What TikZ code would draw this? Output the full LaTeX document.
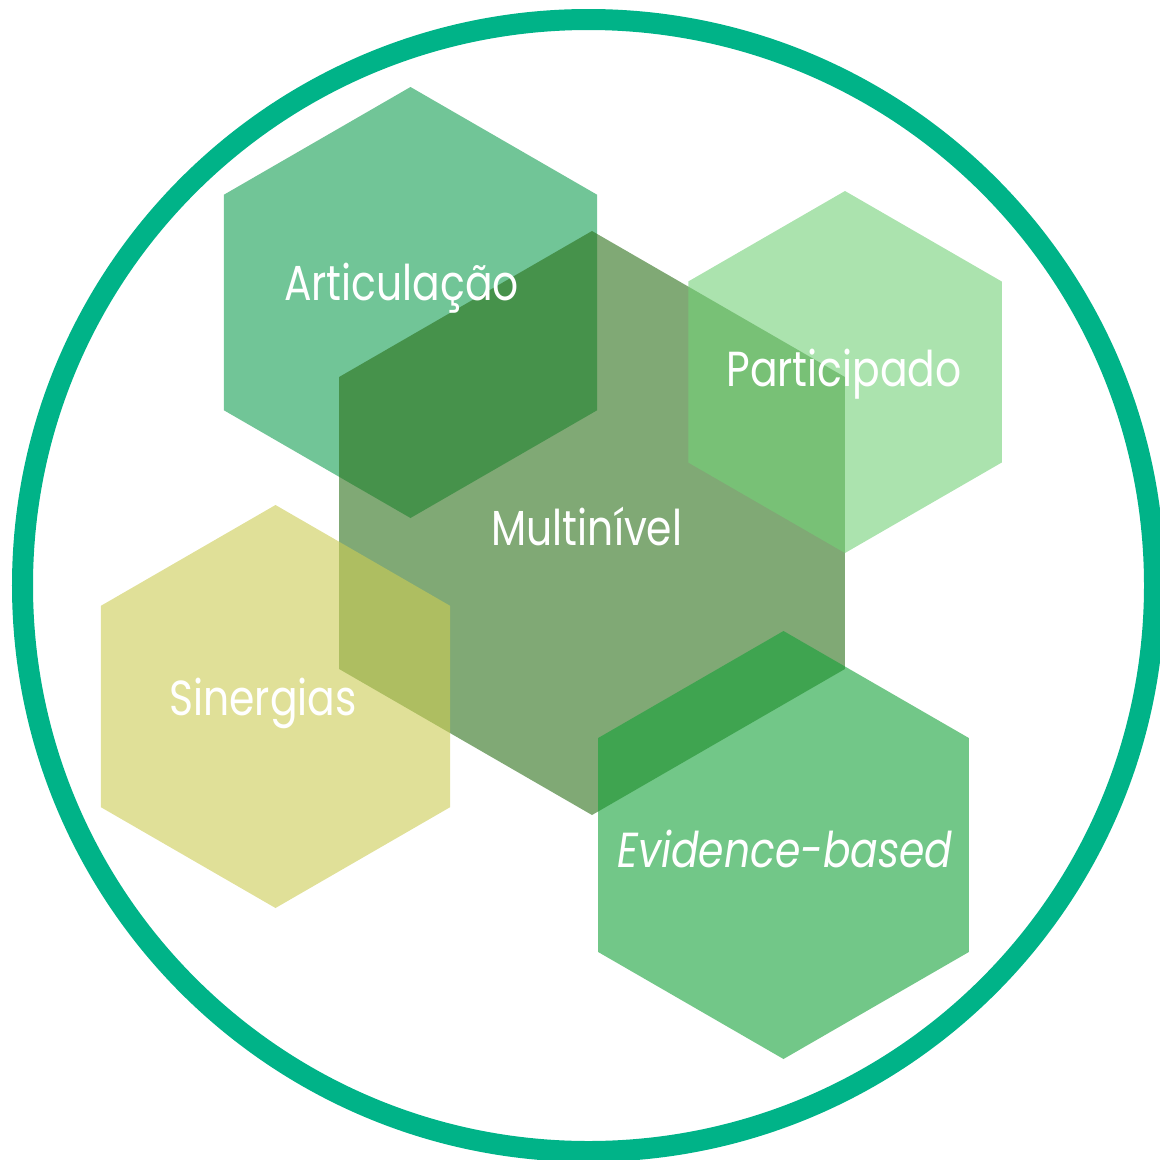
\documentclass[tikz,border=0pt]{standalone}
\usepackage{fontspec}
\setmainfont{Poppins}[FakeStretch=0.83]
\usetikzlibrary{shapes.geometric}
\definecolor{ringcol}{RGB}{0,179,136}
\definecolor{artcol}{rgb}{0.07,0.62,0.32}
\definecolor{multcol}{rgb}{0.17,0.44,0.10}
\definecolor{partcol}{rgb}{0.45,0.82,0.47}
\definecolor{sincol}{rgb}{0.80,0.80,0.33}
\definecolor{evidcol}{rgb}{0.08,0.63,0.22}

\begin{document}
\begin{tikzpicture}[
    hexa/.style={shape=regular polygon,regular polygon sides=6,shape border rotate=30,
        inner sep=0pt,draw=none,fill opacity=0.6},
    lbl/.style={anchor=base,text=white,font=\fontsize{14}{16}\selectfont}]
    \useasboundingbox (0,0) rectangle (11.6,-11.6);

    \node[shape=circle,draw=ringcol,line width=0.21cm,minimum size=11.32cm,inner sep=0pt] (ring) at (5.885,-5.855) {};

    \node[hexa,fill=artcol,minimum size=4.31cm] (art) at (4.105,-3.025) {};
    \node[hexa,fill=multcol,minimum size=5.84cm] (mult) at (5.92,-5.23) {};
    \node[hexa,fill=partcol,minimum size=3.62cm] (part) at (8.45,-3.72) {};
    \node[hexa,fill=sincol,minimum size=4.03cm] (sin) at (2.755,-7.065) {};
    \node[hexa,fill=evidcol,minimum size=4.28cm] (evid) at (7.835,-8.45) {};

    \node[lbl] (artlbl) at (4.015,-3.00) {Articulação};
    \node[lbl] (partlbl) at (8.44,-3.86) {Participado};
    \node[lbl] (multlbl) at (5.87,-5.45) {Multinível};
    \node[lbl] (sinlbl) at (2.63,-7.15) {Sinergias};
    \node[lbl] (evidlbl) at (7.85,-8.67) {\itshape Evidence-based};
\end{tikzpicture}
\end{document}
